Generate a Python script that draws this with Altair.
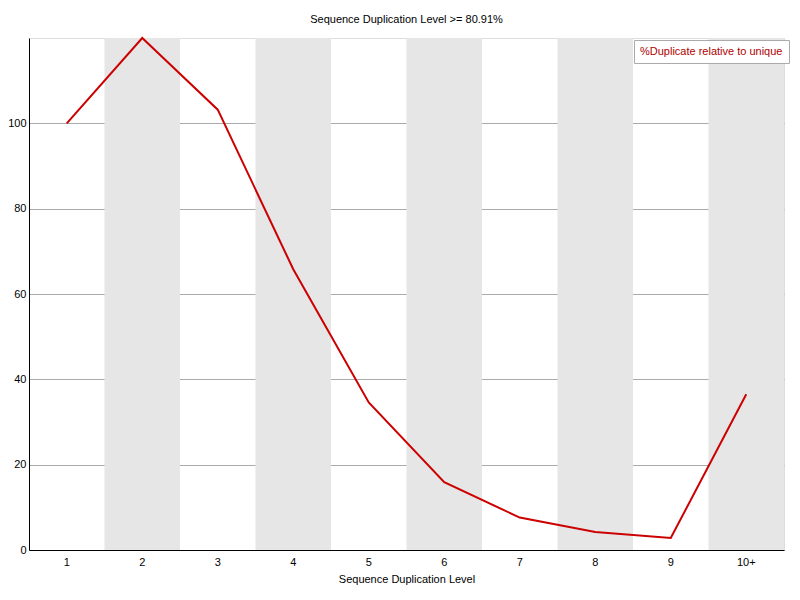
import altair as alt
import pandas as pd

levels = ["1", "2", "3", "4", "5", "6", "7", "8", "9", "10+"]
dup_pct = [100.0, 120.0, 103.2, 65.8, 34.6, 15.9, 7.6, 4.2, 2.8, 36.5]
band_levels = ["2", "4", "6", "8", "10+"]
series_name = "%Duplicate relative to unique"
y_ticks = [0, 20, 40, 60, 80, 100]

FONT = "Liberation Sans"

df = pd.DataFrame({"level": levels, "pct": dup_pct, "series": series_name})
bands = pd.DataFrame({"level": band_levels})

xscale = alt.Scale(domain=levels, paddingInner=0, paddingOuter=0)
yscale = alt.Scale(domain=[0, 120], nice=False, zero=True)

band_layer = alt.Chart(bands).mark_rect(color="#e6e6e6").encode(
    x=alt.X("level:N", scale=xscale, sort=levels,
            axis=alt.Axis(title="Sequence Duplication Level", labelAngle=0,
                          ticks=False, domain=True, domainColor="#000000",
                          labelFont=FONT, labelFontSize=11, labelColor="#000000",
                          labelPadding=6, titleFont=FONT, titleFontSize=11,
                          titleFontWeight="normal", titleColor="#000000",
                          titlePadding=6, grid=False)),
)

line_layer = alt.Chart(df).mark_line(strokeWidth=2).encode(
    x=alt.X("level:N", scale=xscale, sort=levels),
    y=alt.Y("pct:Q", scale=yscale,
            axis=alt.Axis(title=None, values=y_ticks, ticks=False,
                          domain=True, domainColor="#000000",
                          labelFont=FONT, labelFontSize=11, labelColor="#000000",
                          labelPadding=3, grid=True, gridColor="#aaaaaa",
                          gridWidth=1)),
    color=alt.Color("series:N",
                    scale=alt.Scale(domain=[series_name], range=["#cc0000"]),
                    legend=alt.Legend(title=None, orient="none",
                                      legendX=605, legendY=2,
                                      strokeColor="#aaaaaa", fillColor="#ffffff",
                                      padding=6, symbolSize=1,
                                      symbolStrokeWidth=0, symbolOpacity=0,
                                      labelOffset={"expr": "-11"},
                                      labelFont=FONT, labelFontSize=11,
                                      labelColor="#b00000")),
)

chart = alt.layer(band_layer, line_layer).properties(
    width=755, height=512,
    title=alt.Title("Sequence Duplication Level >= 80.91%", font=FONT,
                    fontSize=11, fontWeight="normal", color="#000000",
                    anchor="middle", offset=9),
    autosize=alt.AutoSizeParams(type="none"),
    padding={"left": 21, "top": 30, "right": 8, "bottom": 42},
).configure_view(stroke=None).configure(background="#ffffff")

chart.save("out.html", embed_options={"renderer": "svg", "actions": False})
